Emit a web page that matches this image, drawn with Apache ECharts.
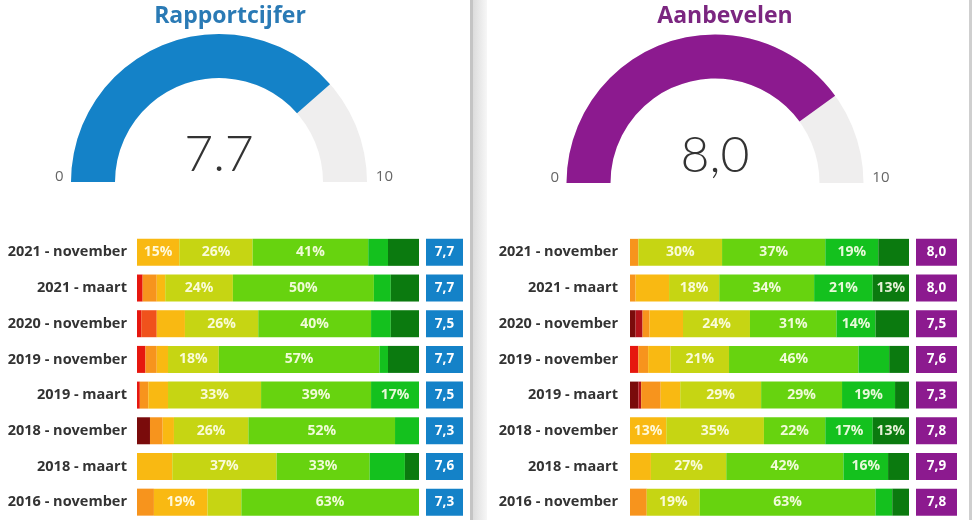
<!DOCTYPE html>
<html>
<head>
<meta charset="utf-8">
<script src="https://cdn.jsdelivr.net/npm/echarts@6/dist/echarts.min.js"></script>
<style>
  html, body { margin: 0; padding: 0; background: #ffffff; }
  #chart { width: 975px; height: 520px; }
</style>
</head>
<body>
<div id="chart"></div>
<script>
// ---------- DATA ----------
const panelTitles = ['Rapportcijfer', 'Aanbevelen'];
const gaugeValues = [7.7, 8.0];
const gaugeDecimalSep = ['.', ','];
const gaugeMin = 0;
const gaugeMax = 10;

const periods = ['2021 - november', '2021 - maart', '2020 - november', '2019 - november',
                 '2019 - maart', '2018 - november', '2018 - maart', '2016 - november'];
const scoreBuckets = ['1', '2', '3', '4', '5', '6', '7', '8', '9', '10'];

// Rapportcijfer: share (%) per score bucket, one value per period
const rap1  = [0, 0, 0, 0, 0, 4.6, 0, 0];
const rap2  = [0, 0, 0, 0, 0, 0, 0, 0];
const rap3  = [0, 2, 1.5, 3, 1, 0, 0, 0];
const rap4  = [0, 0, 5.5, 0, 0, 0, 0, 0];
const rap5  = [0, 5, 0, 4, 3, 4.5, 0, 6];
const rap6  = [15, 3, 10, 4, 7, 4, 12.5, 19];
const rap7  = [26, 24, 26, 18, 33, 26.4, 37, 12];
const rap8  = [41, 50, 40, 57, 39, 52, 33, 63];
const rap9  = [7, 6, 7, 3, 17, 8.5, 12.5, 0];
const rap10 = [11, 10, 10, 11, 0, 0, 5, 0];
const rapScores = [7.7, 7.7, 7.5, 7.7, 7.5, 7.3, 7.6, 7.3];

// Aanbevelen: share (%) per score bucket, one value per period
const aan1  = [0, 0, 2, 0, 3, 0, 0, 0];
const aan2  = [0, 0, 2.5, 0, 1, 0, 0, 0];
const aan3  = [0, 0, 0, 3, 0, 0, 0, 0];
const aan4  = [0, 0, 0, 0, 0, 0, 0, 0];
const aan5  = [3, 2, 2.5, 3.5, 7, 0, 0, 6];
const aan6  = [0, 12, 12, 8, 7, 13, 7.5, 0];
const aan7  = [30, 18, 24, 21, 29, 35, 27, 19];
const aan8  = [37, 34, 31, 46.4, 29, 22, 42, 63];
const aan9  = [19, 21, 14, 11, 19, 17, 16, 6];
const aan10 = [11, 13, 12, 7.1, 5, 13, 7.5, 6];
const aanScores = [8.0, 8.0, 7.5, 7.6, 7.3, 7.8, 7.9, 7.8];

// ---------- STYLE ----------
const bucketColors = ['#7A0B0B', '#B3121A', '#E6170F', '#F0521C', '#F7941D',
                      '#F9B912', '#C6D513', '#67D30F', '#14C11E', '#0B7A0F'];
const panelColors = ['#1482C8', '#8C1A8F'];
const titleColors = ['#2A7AB5', '#7B2680'];
const FONT = "'Open Sans', 'DejaVu Sans', sans-serif";

const rapShares = [rap1, rap2, rap3, rap4, rap5, rap6, rap7, rap8, rap9, rap10];
const aanShares = [aan1, aan2, aan3, aan4, aan5, aan6, aan7, aan8, aan9, aan10];
const panelShares = [rapShares, aanShares];
const panelScores = [rapScores, aanScores];

const layout = [
  { cx: 219, cy: 182, r: 148, titleX: 225, barLeft: 137, barWidth: 282, boxLeft: 426, boxWidth: 37 },
  { cx: 715, cy: 183, r: 148.5, titleX: 720, barLeft: 630, barWidth: 279, boxLeft: 916, boxWidth: 41 }
];
const gridTop = 234.5, gridHeight = 287;

const grids = [], xAxes = [], yAxes = [], series = [], titles = [];

layout.forEach((L, p) => {
  titles.push({
    text: panelTitles[p], left: L.titleX, top: 0, textAlign: 'center',
    textStyle: { fontFamily: FONT, fontSize: 23, fontWeight: 'bold', color: titleColors[p] }
  });

  // gauge with progress, value and min label
  series.push({
    type: 'gauge', center: [L.cx, L.cy], radius: L.r, startAngle: 180, endAngle: 0,
    min: gaugeMin, max: gaugeMax, splitNumber: 1,
    progress: { show: true, width: 44, itemStyle: { color: panelColors[p] } },
    axisLine: { lineStyle: { width: 44, color: [[1, '#EFEEEE']] } },
    pointer: { show: false }, anchor: { show: false },
    axisTick: { show: false }, splitLine: { show: false, length: 0, distance: 0 },
    axisLabel: {
      distance: -16, color: '#666', fontSize: 15, fontFamily: FONT, lineHeight: 10,
      formatter: v => (v === gaugeMin ? String(gaugeMin) + '\n' : '')
    },
    title: { show: false },
    detail: {
      offsetCenter: [0, -27], fontSize: 50, fontWeight: 300, fontFamily: "Lato, 'Open Sans', sans-serif",
      color: '#333',
      formatter: v => v.toFixed(1).replace('.', gaugeDecimalSep[p])
    },
    data: [{ value: gaugeValues[p] }],
    animation: false
  });
  // invisible gauge carrying the max label
  series.push({
    type: 'gauge', center: [L.cx, L.cy], radius: L.r, startAngle: 180, endAngle: 0,
    min: gaugeMin, max: gaugeMax, splitNumber: 1,
    progress: { show: false }, axisLine: { show: false },
    pointer: { show: false }, anchor: { show: false },
    axisTick: { show: false }, splitLine: { show: false, length: 0, distance: 0 },
    axisLabel: {
      distance: -26, color: '#666', fontSize: 15, fontFamily: FONT, lineHeight: 10,
      formatter: v => (v === gaugeMax ? String(gaugeMax) + '\n' : '')
    },
    title: { show: false }, detail: { show: false },
    data: [{ value: gaugeValues[p] }],
    animation: false
  });

  // stacked bar grid
  const gBar = grids.length;
  grids.push({ left: L.barLeft, width: L.barWidth, top: gridTop, height: gridHeight });
  xAxes.push({ gridIndex: gBar, type: 'value', min: 0, max: 100, show: false });
  yAxes.push({
    gridIndex: gBar, type: 'category', inverse: true, data: periods,
    axisLine: { show: false }, axisTick: { show: false },
    axisLabel: { margin: p === 0 ? 10 : 12, color: '#333', fontSize: 14.5, fontWeight: 'bold', fontFamily: FONT }
  });
  panelShares[p].forEach((arr, b) => {
    series.push({
      type: 'bar', name: scoreBuckets[b], stack: 'panel' + p, xAxisIndex: gBar, yAxisIndex: gBar,
      data: arr, barWidth: 27,
      itemStyle: { color: bucketColors[b] },
      label: {
        show: true, position: 'inside', color: 'rgba(255,255,238,0.9)', fontSize: 14,
        fontWeight: 'bold', fontFamily: FONT,
        formatter: d => (d.value >= 13 ? Math.round(d.value) + '%' : '')
      },
      animation: false
    });
  });

  // score box grid
  const gBox = grids.length;
  grids.push({ left: L.boxLeft, width: L.boxWidth, top: gridTop, height: gridHeight });
  xAxes.push({ gridIndex: gBox, type: 'value', min: 0, max: 1, show: false });
  yAxes.push({ gridIndex: gBox, type: 'category', inverse: true, data: periods, show: false });
  series.push({
    type: 'bar', xAxisIndex: gBox, yAxisIndex: gBox, barWidth: 27,
    data: panelScores[p].map(s => ({ value: 1, score: s })),
    itemStyle: { color: panelColors[p] },
    label: {
      show: true, position: 'inside', color: '#fff', fontSize: 13.5, fontWeight: 'bold', fontFamily: FONT,
      formatter: d => d.data.score.toFixed(1).replace('.', ',')
    },
    animation: false
  });
});

const chart = echarts.init(document.getElementById('chart'), null, { renderer: 'canvas' });
chart.setOption({
  backgroundColor: '#ffffff',
  animation: false,
  title: titles,
  grid: grids,
  xAxis: xAxes,
  yAxis: yAxes,
  series: series,
  graphic: [
    { type: 'rect', left: 470, top: 0, shape: { width: 3, height: 520 }, style: { fill: '#C4C4C4' }, silent: true },
    { type: 'rect', left: 473, top: 0, shape: { width: 14, height: 520 },
      style: { fill: new echarts.graphic.LinearGradient(0, 0, 1, 0, [
        { offset: 0, color: '#DCDCDC' }, { offset: 1, color: '#F7F7F7' }]) }, silent: true },
    { type: 'rect', left: 969, top: 0, shape: { width: 3, height: 520 }, style: { fill: '#CFCFCF' }, silent: true }
  ]
});
</script>
</body>
</html>
